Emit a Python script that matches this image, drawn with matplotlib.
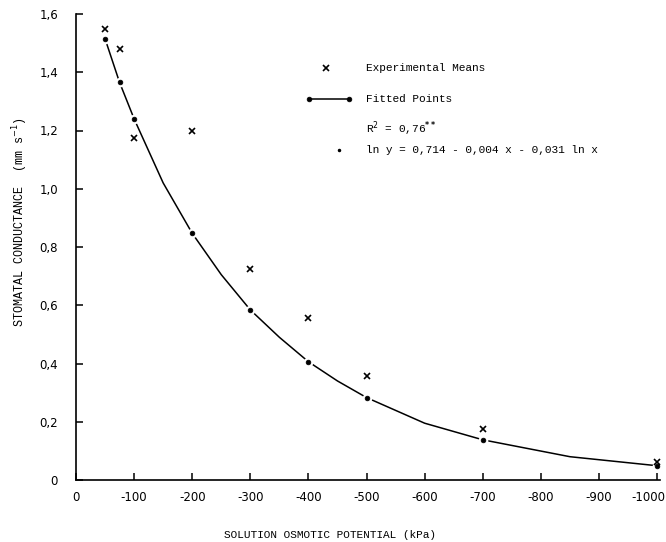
import matplotlib
matplotlib.use("Agg")
import matplotlib.pyplot as plt
from matplotlib.transforms import ScaledTranslation

# Experimental means (x markers)
exp_x = [-50, -75, -100, -200, -300, -400, -500, -700, -1000]
exp_y = [1.55, 1.48, 1.175, 1.20, 0.723, 0.555, 0.358, 0.175, 0.063]

# Fitted points (dots)
fit_x = [-50, -75, -100, -200, -300, -400, -500, -700, -1000]
fit_y = [1.515, 1.365, 1.24, 0.847, 0.584, 0.406, 0.283, 0.138, 0.049]

# Fitted curve
curve_x = [-50, -75, -100, -150, -200, -250, -300, -350, -400, -450, -500, -600, -700, -850, -1000]
curve_y = [1.515, 1.365, 1.24, 1.02, 0.847, 0.705, 0.584, 0.49, 0.406, 0.34, 0.283, 0.195, 0.138, 0.08, 0.049]

xticks = [0, -100, -200, -300, -400, -500, -600, -700, -800, -900, -1000]
yticks = [0, 0.2, 0.4, 0.6, 0.8, 1.0, 1.2, 1.4, 1.6]

W, H = 666, 542
fig = plt.figure(figsize=(W / 100, H / 100), dpi=100)
ax = fig.add_axes([76 / W, 1 - 480 / H, 584 / W, 466 / H])

mono = "Liberation Mono"

ax.plot(curve_x, curve_y, color="black", lw=1.1, zorder=2)
ax.plot(fit_x, fit_y, ls="none", marker="o", ms=7, mfc="white", mec="none", zorder=3)
ax.plot(fit_x, fit_y, ls="none", marker="o", ms=3.4, mfc="black", mec="black", mew=0.5, zorder=4)
ax.plot(exp_x, exp_y, ls="none", marker="x", ms=4.5, mec="black", mew=1.2, zorder=4)

ax.set_xlim(0, -1005)
ax.set_ylim(0, 1.6)
ax.spines["top"].set_visible(False)
ax.spines["right"].set_visible(False)
for s in ("left", "bottom"):
    ax.spines[s].set_linewidth(1.2)

ax.set_xticks(xticks)
ax.set_xticklabels(["0"] + [str(v) for v in xticks[1:]])
ax.set_yticks(yticks)
ax.set_yticklabels(["0"] + [f"{v:.1f}".replace(".", ",") for v in yticks[1:]])
ax.tick_params(axis="both", direction="in", length=5, width=1.1, labelsize=8.5)
ax.tick_params(axis="y", pad=13)
ax.tick_params(axis="x", pad=8)

# shift last x tick label left so it fits inside the figure
last = ax.get_xticklabels()[-1]
last.set_transform(last.get_transform() + ScaledTranslation(-9 / 100, 0, fig.dpi_scale_trans))

def px(x, y):
    return x / W, 1 - y / H

fig.text(*px(330, 535), "SOLUTION OSMOTIC POTENTIAL (kPa)", family=mono, fontsize=8,
         ha="center", va="center")
fig.text(*px(20, 222), r"STOMATAL CONDUCTANCE  (mm s$^{-1}$)", family=mono, fontsize=8.5,
         ha="center", va="center", rotation=90)

# Legend block
fig.lines.append(plt.Line2D([326 / W], [1 - 68 / H], transform=fig.transFigure,
                            marker="x", ms=4.5, mec="black", mew=1.2, ls="none"))
fig.text(*px(366, 68), "Experimental Means", family=mono, fontsize=8, va="center")
fig.lines.append(plt.Line2D([311 / W, 347 / W], [1 - 99 / H, 1 - 99 / H],
                            transform=fig.transFigure, color="black", lw=1.1))
fig.lines.append(plt.Line2D([309 / W, 349 / W], [1 - 99 / H, 1 - 99 / H],
                            transform=fig.transFigure, ls="none",
                            marker="o", ms=3.4, mfc="black", mec="black", mew=0.5))
fig.text(*px(366, 99), "Fitted Points", family=mono, fontsize=8, va="center")
fig.text(*px(366, 129), r"R$^{2}$ = 0,76$^{\mathbf{**}}$", family=mono, fontsize=8, va="center")
fig.lines.append(plt.Line2D([339 / W], [1 - 150 / H], transform=fig.transFigure,
                            marker="o", ms=1.5, mfc="black", mec="black", ls="none"))
fig.text(*px(366, 150), "ln y = 0,714 - 0,004 x - 0,031 ln x", family=mono, fontsize=8,
         va="center")

fig.savefig("out.png", dpi=100)
